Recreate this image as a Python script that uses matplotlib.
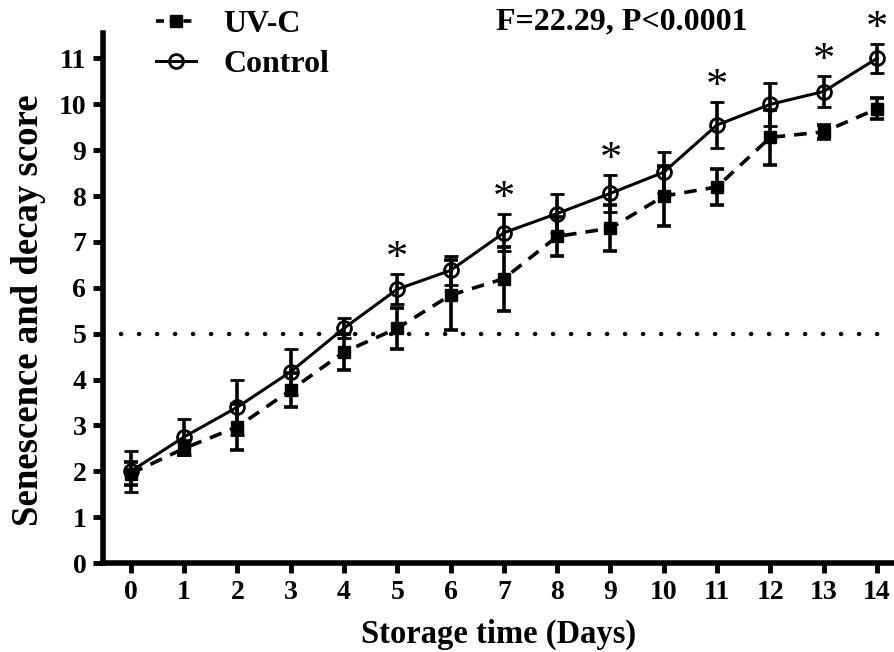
import matplotlib
matplotlib.use("Agg")
import matplotlib.pyplot as plt
from matplotlib.lines import Line2D

days = list(range(15))
control = [2.0, 2.75, 3.4, 4.17, 5.12, 5.97, 6.38, 7.2, 7.62, 8.06, 8.52, 9.55, 10.0, 10.28, 11.0]
control_err = [0.45, 0.4, 0.6, 0.5, 0.22, 0.33, 0.32, 0.4, 0.42, 0.4, 0.45, 0.5, 0.47, 0.33, 0.32]
uvc = [1.95, 2.5, 2.97, 3.77, 4.6, 5.12, 5.84, 6.2, 7.12, 7.3, 8.0, 8.2, 9.28, 9.4, 9.9]
uvc_err = [0.25, 0.15, 0.5, 0.37, 0.4, 0.45, 0.76, 0.7, 0.43, 0.5, 0.65, 0.4, 0.6, 0.15, 0.23]
star_days = [5, 7, 9, 11, 13, 14]
threshold = 5
stat_text = "F=22.29, P<0.0001"

plt.rcParams['font.family'] = ['Liberation Serif', 'DejaVu Serif']
plt.rcParams['font.weight'] = 'bold'

fig = plt.figure(figsize=(8.95, 6.52), dpi=100)
ax = fig.add_axes([0.115, 0.1365, 0.885, 0.8125])

ax.axhline(threshold, color='black', lw=3.2, linestyle=(0, (0.05, 4.0)),
           dash_capstyle='round', zorder=1)

ax.errorbar(days, uvc, yerr=uvc_err, color='black', lw=2.6, linestyle=(0, (3.5, 2.5)),
            marker='s', ms=8, mfc='black', mec='black', elinewidth=2.6,
            capsize=4.7, capthick=2.6, zorder=3)
ax.errorbar(days, control, yerr=control_err, color='black', lw=2.2, linestyle='-',
            marker='o', ms=10, mfc='none', mec='black', mew=2.0, elinewidth=2.6,
            capsize=4.7, capthick=2.6, zorder=4)

for d in star_days:
    ax.text(d, control[d] + control_err[d] + 0.33, '*', ha='center', va='center',
            fontsize=32, fontweight='normal', clip_on=False)

ax.set_xlim(-0.525, 14.34)
ax.set_ylim(0, 11.55)
ax.set_xticks(days)
ax.set_yticks(range(12))
ax.tick_params(axis='both', direction='out', length=7, width=3.5, labelsize=20, pad=5)
for lab in ax.get_xticklabels() + ax.get_yticklabels():
    lab.set_fontweight('bold')
for s in ['top', 'right']:
    ax.spines[s].set_visible(False)
for s in ['left', 'bottom']:
    ax.spines[s].set_linewidth(4)

ax.set_xlabel('Storage time (Days)', fontsize=23.5, fontweight='bold', labelpad=10)
ax.set_ylabel('Senescence and decay score', fontsize=26.5, fontweight='bold')
ax.yaxis.set_label_coords(-0.072, 0.478)

fig.text(0.695, 0.966, stat_text, ha='center', va='center', fontsize=23, fontweight='bold')

h1 = Line2D([], [], color='black', lw=2.6, linestyle=(0, (2.2, 1.6)), marker='s', ms=8)
h2 = Line2D([], [], color='black', lw=2.2, linestyle='-', marker='o', ms=10, mfc='none', mew=2.0)
fig.legend([h1, h2], ['UV-C', 'Control'], loc='upper left', bbox_to_anchor=(0.157, 1.01),
           frameon=False, handlelength=1.25, handletextpad=0.85, borderpad=0,
           labelspacing=0.35, prop={'weight': 'bold', 'size': 23})

fig.savefig('out.png', dpi=100)
